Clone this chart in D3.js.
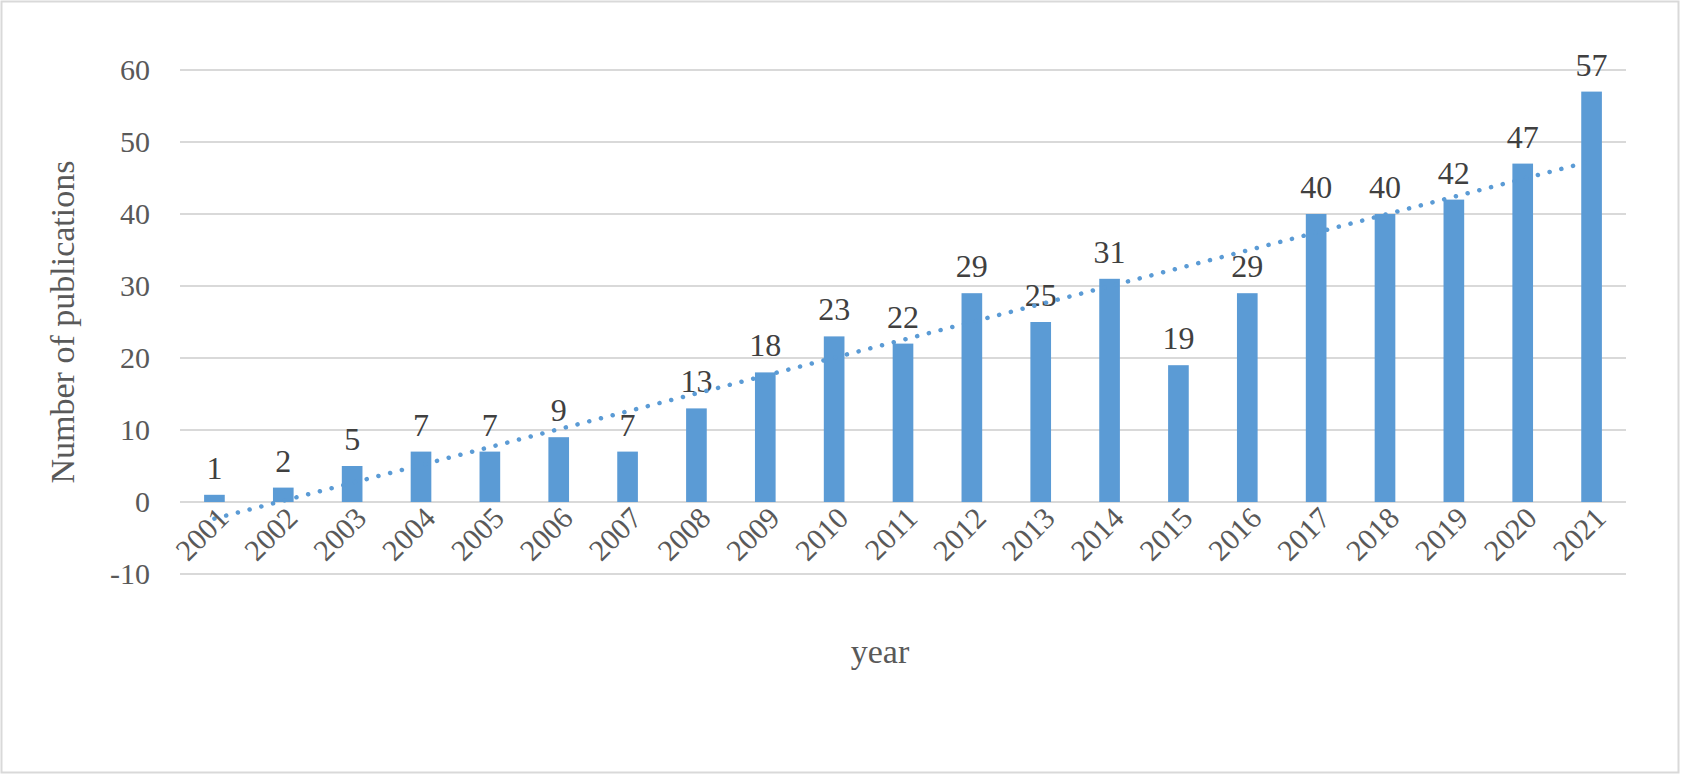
<!DOCTYPE html>
<html><head><meta charset="utf-8">
<script src="https://cdn.jsdelivr.net/npm/d3@7"></script>
<style>body{margin:0;background:#fff}text{font-family:"Liberation Serif","Times New Roman",serif}</style>
</head><body><svg width="1682" height="775"></svg>
<script>
var years = ["2001","2002","2003","2004","2005","2006","2007","2008","2009","2010","2011","2012","2013","2014","2015","2016","2017","2018","2019","2020","2021"];
var counts = [1,2,5,7,7,9,7,13,18,23,22,29,25,31,19,29,40,40,42,47,57];
var yTicks = [-10,0,10,20,30,40,50,60];

var svg = d3.select('svg');
svg.append('rect').attr('x',1.5).attr('y',1.5).attr('width',1677).attr('height',771)
    .attr('fill','#fff').attr('stroke','#d9d9d9').attr('stroke-width',2);

var scaleX = d3.scaleBand().domain(years).range([180,1626]).paddingInner(0.7).paddingOuter(0.35);
var scaleY = d3.scaleLinear().domain([-10,60]).range([574,70]);

svg.append('g').selectAll('line').data(yTicks).enter().append('line')
    .attr('x1',180).attr('x2',1626)
    .attr('y1',function(d){return scaleY(d);}).attr('y2',function(d){return scaleY(d);})
    .attr('stroke','#d9d9d9').attr('stroke-width',2);

svg.append('g').selectAll('text').data(yTicks).enter().append('text')
    .attr('x',150).attr('y',function(d){return scaleY(d)+10;})
    .attr('text-anchor','end').attr('font-size',30).attr('fill','#595959')
    .text(function(d){return d;});

svg.append('g').selectAll('rect').data(counts).enter().append('rect')
    .attr('x',function(d,i){return scaleX(years[i]);})
    .attr('width',scaleX.bandwidth())
    .attr('y',function(d){return scaleY(d);})
    .attr('height',function(d){return scaleY(0)-scaleY(d);})
    .attr('fill','#5b9bd5');

svg.append('g').selectAll('text').data(counts).enter().append('text')
    .attr('x',function(d,i){return scaleX(years[i])+scaleX.bandwidth()/2;})
    .attr('y',function(d){return scaleY(d)-16;})
    .attr('text-anchor','middle').attr('font-size',32).attr('fill','#404040')
    .style('font-family','"Liberation Serif",serif')
    .text(function(d){return d;});

// linear trend line
var n = counts.length, mx = (n-1)/2, my = d3.mean(counts);
var sxy = d3.sum(counts,function(d,i){return (i-mx)*(d-my);});
var sxx = d3.sum(counts,function(d,i){return (i-mx)*(i-mx);});
var slope = sxy/sxx, icpt = my - slope*mx;
var cx = function(i){return scaleX(years[i])+scaleX.bandwidth()/2;};
svg.append('line')
    .attr('x1',cx(0)).attr('y1',scaleY(icpt))
    .attr('x2',cx(n-1)).attr('y2',scaleY(icpt+slope*(n-1)))
    .attr('stroke','#5b9bd5').attr('stroke-width',4.5)
    .attr('stroke-dasharray','0.1 12').attr('stroke-linecap','round');

svg.append('g').selectAll('text').data(years).enter().append('text')
    .attr('transform',function(d){return 'translate('+(scaleX(d)+scaleX.bandwidth()/2+16)+',520) rotate(-45)';})
    .attr('text-anchor','end').attr('font-size',30).attr('fill','#595959')
    .text(function(d){return d;});

svg.append('text').attr('x',880).attr('y',663).attr('text-anchor','middle')
    .attr('font-size',34).attr('fill','#595959').text('year');
svg.append('text').attr('transform','translate(74,322) rotate(-90)').attr('text-anchor','middle')
    .attr('font-size',34).attr('fill','#595959').text('Number of publications');
</script></body></html>
